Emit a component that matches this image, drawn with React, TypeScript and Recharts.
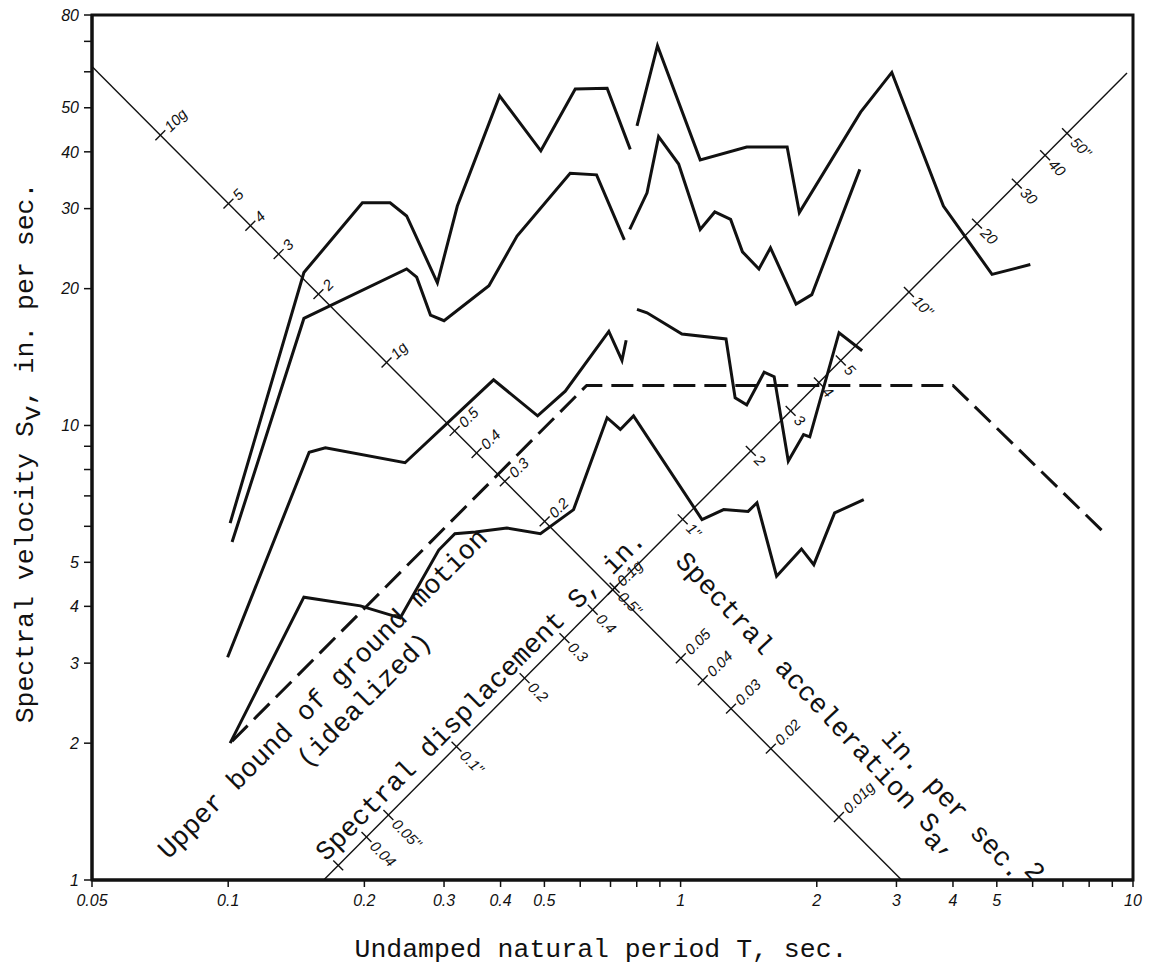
import React from "react";
import { ComposedChart, Line, Scatter, XAxis, YAxis, ReferenceArea } from "recharts";

const INK = "#111";
const MONO = "'Liberation Mono', 'Courier New', monospace";
const HAND = "'Liberation Sans', Arial, sans-serif";
const R = Math.SQRT1_2;

// axes: undamped natural period T (sec) and spectral velocity Sv (in./sec), both log
const periodTicks = [0.05, 0.1, 0.2, 0.3, 0.4, 0.5, 0.6, 0.7, 0.8, 0.9, 1, 2, 3, 4, 5, 6, 7, 8, 9, 10];
const periodLabels = [0.05, 0.1, 0.2, 0.3, 0.4, 0.5, 1, 2, 3, 4, 5, 10];
const velocityTicks = [1, 2, 3, 4, 5, 6, 7, 8, 9, 10, 20, 30, 40, 50, 60, 70, 80];
const velocityLabels = [1, 2, 3, 4, 5, 10, 20, 30, 40, 50, 80];

// spectrum curves as [T, Sv]; null where the pen lifts
const spectrum1: [number, number | null][] = [
  [0.101, 6.1], [0.147, 21.7], [0.198, 30.9], [0.228, 30.9], [0.248, 28.9], [0.29, 20.6],
  [0.321, 30.4], [0.398, 53.1], [0.491, 40.2], [0.585, 55.0], [0.688, 55.2], [0.774, 40.5],
  [0.788, null], [0.801, 45.6], [0.889, 68.5], [1.105, 38.4], [1.4, 41.0], [1.72, 41.0],
  [1.83, 29.4], [2.5, 48.9], [2.93, 59.8], [3.81, 30.4], [4.88, 21.5], [5.93, 22.6],
];
const spectrum2: [number, number | null][] = [
  [0.102, 5.54], [0.147, 17.2], [0.248, 22.1], [0.261, 21.2], [0.28, 17.5], [0.3, 17.0],
  [0.377, 20.3], [0.435, 26.1], [0.57, 35.9], [0.652, 35.6], [0.751, 25.6], [0.762, null],
  [0.772, 27.0], [0.843, 32.5], [0.894, 43.2], [0.99, 37.6], [1.105, 27.0], [1.19, 29.5],
  [1.29, 28.4], [1.37, 24.1], [1.49, 22.1], [1.58, 24.6], [1.8, 18.5], [1.95, 19.4], [2.49, 36.6],
];
const spectrum3: [number, number | null][] = [
  [0.0997, 3.09], [0.151, 8.73], [0.164, 8.93], [0.246, 8.28], [0.386, 12.6], [0.483, 10.5],
  [0.556, 11.9], [0.694, 16.1], [0.742, 13.9], [0.758, 15.4], [0.78, null], [0.801, 18.0],
  [0.843, 17.7], [1.007, 15.9], [1.26, 15.5], [1.32, 11.5], [1.4, 11.1], [1.53, 13.1],
  [1.61, 12.8], [1.73, 8.35], [1.87, 9.55], [1.93, 9.44], [2.24, 16.0], [2.52, 14.6],
];
const spectrum4: [number, number | null][] = [
  [0.101, 2.0], [0.147, 4.19], [0.196, 4.01], [0.228, 3.83], [0.24, 3.77], [0.292, 5.32],
  [0.317, 5.78], [0.352, 5.83], [0.413, 5.95], [0.49, 5.78], [0.58, 6.53], [0.688, 10.4],
  [0.736, 9.8], [0.787, 10.5], [1.115, 6.21], [1.245, 6.53], [1.41, 6.47], [1.475, 6.76],
  [1.63, 4.66], [1.85, 5.35], [1.97, 4.94], [2.19, 6.42], [2.54, 6.87],
];
const groundBound: [number, number][] = [[0.102, 2.02], [0.62, 12.25], [4.0, 12.25], [8.76, 5.73]];

// diagonal scales of the tripartite grid
const accelConst = 3.08; // Sv * T along the acceleration line
const dispConst = 6.15; // Sv / T along the displacement line
const accelTicks = [10, 5, 4, 3, 2, 1, 0.5, 0.4, 0.3, 0.2, 0.1, 0.05, 0.04, 0.03, 0.02, 0.01];
const accelTickLabels = ["10g", "5", "4", "3", "2", "1g", "0.5", "0.4", "0.3", "0.2", "0.1g", "0.05", "0.04", "0.03", "0.02", "0.01g"];
const dispTicks = [0.03, 0.04, 0.05, 0.1, 0.2, 0.3, 0.4, 0.5, 1, 2, 3, 4, 5, 10, 20, 30, 40, 50];
const dispTickLabels = ["", "0.04", '0.05"', '0.1"', "0.2", "0.3", "0.4", '0.5"', '1"', "2", "3", "4", "5", '10"', "20", "30", "40", '50"'];

const toRows = (pts: [number, number | null][]) => pts.map(([T, V]) => ({ T, V }));

const accelLine = [0.05, accelConst].map((T) => ({ T, V: accelConst / T }));
const dispLine = [1 / dispConst, 9.7].map((T) => ({ T, V: dispConst * T }));

const accelRows = accelTicks.map((a, i) => {
  const V = Math.sqrt((a * 386.1 * accelConst) / (2 * Math.PI));
  return { T: accelConst / V, V, label: accelTickLabels[i] };
});
const dispRows = dispTicks.map((d, i) => {
  const T = Math.sqrt((2 * Math.PI * d) / dispConst);
  return { T, V: dispConst * T, label: dispTickLabels[i] };
});

const smallLabel = { fontFamily: HAND, fontStyle: "italic" as const, fontSize: 15, fill: INK };

const AccelTick = (p: any) => {
  const { cx, cy, payload } = p;
  const lx = cx + 9 * R;
  const ly = cy - 9 * R;
  return (
    <g>
      <line x1={cx - 7 * R} y1={cy + 7 * R} x2={cx + 7 * R} y2={cy - 7 * R} stroke={INK} strokeWidth={1.4} />
      {payload.label ? (
        <text x={lx} y={ly} transform={`rotate(-45 ${lx} ${ly})`} dominantBaseline="central" {...smallLabel}>
          {payload.label}
        </text>
      ) : null}
    </g>
  );
};

const DispTick = (p: any) => {
  const { cx, cy, payload } = p;
  const lx = cx + 9 * R;
  const ly = cy + 9 * R;
  return (
    <g>
      <line x1={cx - 7 * R} y1={cy - 7 * R} x2={cx + 7 * R} y2={cy + 7 * R} stroke={INK} strokeWidth={1.4} />
      {payload.label ? (
        <text x={lx} y={ly} transform={`rotate(45 ${lx} ${ly})`} dominantBaseline="central" {...smallLabel}>
          {payload.label}
        </text>
      ) : null}
    </g>
  );
};

// rotated typewritten notes, anchored at the start of their baseline
const notes = [
  { id: "bound", T: 0.0737, V: 1.106, angle: -45 },
  { id: "ideal", T: 0.1493, V: 1.755, angle: -45 },
  { id: "disp", T: 0.1645, V: 1.095, angle: -45 },
  { id: "acc", T: 0.9685, V: 5.01, angle: 47 },
  { id: "accUnit", T: 2.763, V: 2.046, angle: 47 },
];

const noteText = (id: string) => {
  if (id === "bound") return "Upper bound of ground motion";
  if (id === "ideal") return "(idealized)";
  if (id === "disp") return "Spectral displacement S, in.";
  if (id === "acc")
    return (
      <>
        Spectral acceleration S<tspan dy={8}>a</tspan>
        <tspan dy={-8}>,</tspan>
      </>
    );
  return (
    <>
      in. per sec.<tspan dy={-14}>2</tspan>
    </>
  );
};

const Note = (p: any) => {
  const { cx, cy, payload } = p;
  return (
    <text
      x={cx}
      y={cy}
      transform={`rotate(${payload.angle} ${cx} ${cy})`}
      fontFamily={MONO}
      fontSize={27}
      fill={INK}
    >
      {noteText(payload.id)}
    </text>
  );
};

const XTitle = () => (
  <text x={601} y={957} textAnchor="middle" fontFamily={MONO} fontSize={26.5} fill={INK}>
    Undamped natural period T, sec.
  </text>
);

const YTitle = () => {
  const x = 33;
  const y = 453;
  return (
    <text x={x} y={y} transform={`rotate(-90 ${x} ${y})`} textAnchor="middle" fontFamily={MONO} fontSize={26.5} fill={INK}>
      Spectral velocity S<tspan dy={7}>v</tspan>
      <tspan dy={-7}>, in. per sec.</tspan>
    </text>
  );
};

const tickStyle = { fill: INK, fontSize: 16, fontStyle: "italic", fontFamily: HAND };

export default function App() {
  return (
    <div style={{ position: "absolute", left: 0, top: 0, width: 1150, height: 970, background: "#fff" }}>
      <ComposedChart width={1150} height={970} margin={{ top: 15, right: 17, bottom: 30, left: 32 }}>
        <XAxis
          dataKey="T"
          type="number"
          scale="log"
          domain={[0.05, 10]}
          ticks={periodTicks}
          interval={0}
          tickFormatter={(v: number) => (periodLabels.includes(v) ? String(v) : "")}
          height={60}
          tickSize={7}
          tickMargin={8}
          axisLine={{ stroke: INK, strokeWidth: 3 }}
          tickLine={{ stroke: INK, strokeWidth: 1.5 }}
          tick={tickStyle}
          label={XTitle}
        />
        <YAxis
          dataKey="V"
          type="number"
          scale="log"
          domain={[1, 80]}
          ticks={velocityTicks}
          interval={0}
          tickFormatter={(v: number) => (velocityLabels.includes(v) ? String(v) : "")}
          width={60}
          tickSize={8}
          tickMargin={5}
          axisLine={{ stroke: INK, strokeWidth: 3 }}
          tickLine={{ stroke: INK, strokeWidth: 1.5 }}
          tick={tickStyle}
          label={YTitle}
        />
        <ReferenceArea x1={0.05} x2={10} y1={1} y2={80} fill="none" stroke={INK} strokeWidth={3} />

        <Line data={accelLine} dataKey="V" type="linear" stroke={INK} strokeWidth={1.4} dot={false} isAnimationActive={false} />
        <Line data={dispLine} dataKey="V" type="linear" stroke={INK} strokeWidth={1.4} dot={false} isAnimationActive={false} />
        <Scatter data={accelRows} dataKey="V" shape={AccelTick} isAnimationActive={false} />
        <Scatter data={dispRows} dataKey="V" shape={DispTick} isAnimationActive={false} />

        <Line
          data={toRows(groundBound)}
          dataKey="V"
          type="linear"
          stroke={INK}
          strokeWidth={3}
          strokeDasharray="22 9"
          dot={false}
          isAnimationActive={false}
        />
        {[spectrum1, spectrum2, spectrum3, spectrum4].map((s, i) => (
          <Line
            key={i}
            data={toRows(s)}
            dataKey="V"
            type="linear"
            stroke={INK}
            strokeWidth={3}
            dot={false}
            connectNulls={false}
            isAnimationActive={false}
          />
        ))}

        <Scatter data={notes} dataKey="V" shape={Note} isAnimationActive={false} />
      </ComposedChart>
    </div>
  );
}
